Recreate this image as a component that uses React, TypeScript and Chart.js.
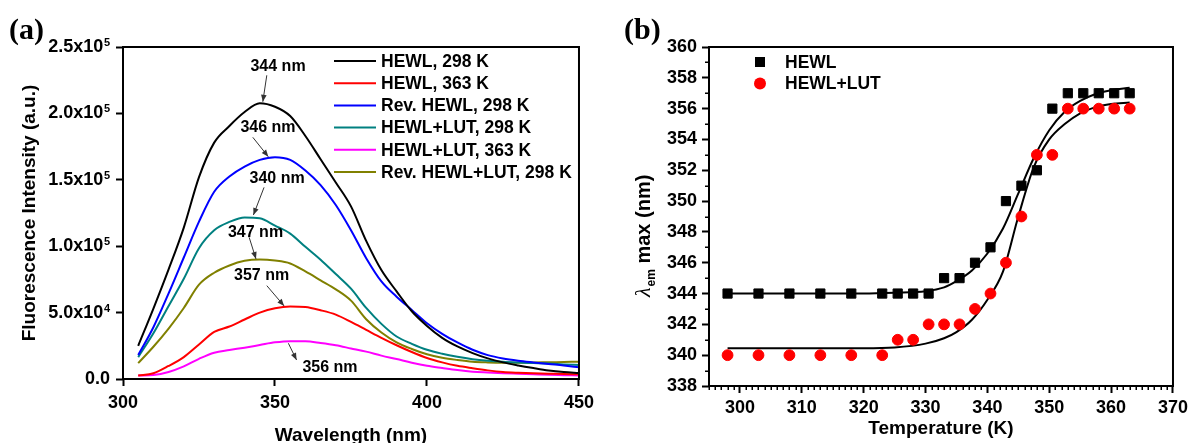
import React, { useEffect, useRef } from "react";
import { Chart, registerables } from "chart.js";

Chart.register(...registerables);

const SANS = "'Liberation Sans', Arial, Helvetica, sans-serif";
const SERIF = "'Liberation Serif', 'Times New Roman', serif";

// ================= Panel (a): emission spectra =================
const WAVELENGTH = [305, 310, 315, 320, 325, 330, 335, 340, 345, 350, 355, 360, 365, 370, 375, 380, 385, 390, 395, 400, 405, 410, 415, 420, 425, 430, 435, 440, 445, 450];

const HEWL_298K = [25000, 53000, 82500, 114000, 152000, 178000, 190500, 201000, 207600, 205000, 198000, 183000, 165500, 148000, 130000, 104000, 82000, 66000, 51000, 40000, 31000, 24500, 19500, 15500, 12500, 10200, 8200, 6400, 5200, 4500];
const HEWL_363K = [2600, 4300, 9800, 16500, 26000, 35500, 39500, 44800, 50000, 53300, 54600, 54200, 51800, 48500, 43000, 37000, 31000, 25400, 20300, 15800, 12500, 9900, 8100, 6500, 5300, 4700, 4300, 4000, 3800, 3500];
const REV_HEWL_298K = [18000, 39000, 64500, 91500, 118500, 141000, 152500, 160000, 165000, 167000, 165000, 157000, 146000, 131000, 112000, 91000, 73500, 62000, 52000, 42000, 34000, 27500, 22000, 18000, 15500, 13800, 12500, 11300, 10200, 8800];
const HEWL_LUT_298K = [16500, 34400, 55000, 75500, 98500, 112000, 118300, 121700, 121000, 115500, 109500, 99500, 89800, 79000, 68000, 53500, 41500, 32000, 26500, 22000, 19000, 16700, 14900, 13700, 12900, 12400, 12000, 11600, 11000, 10500];
const HEWL_LUT_363K = [2600, 3000, 5300, 9500, 15200, 19800, 21800, 23600, 25600, 27600, 28500, 28400, 27100, 25400, 23000, 20600, 17600, 15000, 12300, 10000, 8300, 6700, 5500, 4900, 4400, 4000, 3600, 3200, 2900, 2600];
const REV_HEWL_LUT_298K = [12000, 24300, 38000, 53500, 71000, 80000, 85500, 89000, 90000, 89200, 87000, 81000, 74300, 67500, 59000, 45000, 35000, 27600, 22600, 18600, 16000, 14300, 13000, 12500, 12300, 12300, 12400, 12600, 12800, 13000];

const SPECTRA_LABELS = ["HEWL, 298 K", "HEWL, 363 K", "Rev. HEWL, 298 K", "HEWL+LUT, 298 K", "HEWL+LUT, 363 K", "Rev. HEWL+LUT, 298 K"];
const SPECTRA_VALUES = [HEWL_298K, HEWL_363K, REV_HEWL_298K, HEWL_LUT_298K, HEWL_LUT_363K, REV_HEWL_LUT_298K];
const SPECTRA_COLORS = ["#000000", "#ff0000", "#0000ff", "#008080", "#ff00ff", "#808000"];

const X_TICKS_A = [300, 350, 400, 450];
const Y_TICKS_A = [0, 50000, 100000, 150000, 200000, 250000];
const Y_TICK_MANTISSA_A = ["0.0", "5.0x10", "1.0x10", "1.5x10", "2.0x10", "2.5x10"];
const Y_TICK_EXPONENT_A = ["", "4", "5", "5", "5", "5"];

// peak annotations (data coordinates: wavelength, intensity)
const PEAK_LABELS = ["344 nm", "346 nm", "340 nm", "347 nm", "357 nm", "356 nm"];
const PEAK_LABEL_AT = [[351, 235300], [347.7, 189400], [350.7, 150700], [343.6, 110000], [345.6, 77500], [368.1, 8500]];
const PEAK_ARROW_FROM = [[347.3, 228700], [342.7, 182000], [346.4, 144300], [341.5, 106700], [347.3, 70300], [354.4, 26900]];
const PEAK_ARROW_TO = [[346.0, 208800], [347.8, 167400], [342.9, 123500], [343.75, 90400], [353.0, 55000], [357.1, 14300]];

// ================= Panel (b): lambda max vs temperature =================
const TEMPERATURE = [298, 303, 308, 313, 318, 323, 325.5, 328, 330.5, 333, 335.5, 338, 340.5, 343, 345.5, 348, 350.5, 353, 355.5, 358, 360.5, 363];
const HEWL_LMAX = [344, 344, 344, 344, 344, 344, 344, 344, 344, 345, 345, 346, 347, 350, 351, 352, 356, 357, 357, 357, 357, 357];
const HEWL_LUT_LMAX = [340, 340, 340, 340, 340, 340, 341, 341, 342, 342, 342, 343, 344, 346, 349, 353, 353, 356, 356, 356, 356, 356];

const FIT_TEMPERATURE = [298, 305, 310, 315, 320, 325, 330, 333, 335, 337.5, 340, 342.5, 345, 347.5, 350, 352.5, 355, 357.5, 360, 363];
const FIT_HEWL = [344.0, 344.0, 344.0, 344.0, 344.0, 344.05, 344.15, 344.4, 344.8, 345.5, 346.6, 348.2, 350.5, 352.8, 354.6, 355.8, 356.5, 356.95, 357.2, 357.35];
const FIT_HEWL_LUT = [340.45, 340.45, 340.45, 340.45, 340.45, 340.5, 340.75, 341.1, 341.5, 342.3, 343.6, 345.4, 349.0, 352.2, 354.0, 355.0, 355.7, 356.1, 356.3, 356.4];

const X_TICKS_B = [300, 310, 320, 330, 340, 350, 360, 370];
const Y_TICKS_B = [338, 340, 342, 344, 346, 348, 350, 352, 354, 356, 358, 360];

// ---------------------------------------------------------------
function drawArrow(ctx: CanvasRenderingContext2D, x1: number, y1: number, x2: number, y2: number) {
  ctx.strokeStyle = "#333";
  ctx.fillStyle = "#333";
  ctx.lineWidth = 1;
  ctx.beginPath();
  ctx.moveTo(x1, y1);
  ctx.lineTo(x2, y2);
  ctx.stroke();
  const ang = Math.atan2(y2 - y1, x2 - x1);
  const len = 7;
  const w = 2.8;
  ctx.beginPath();
  ctx.moveTo(x2, y2);
  ctx.lineTo(x2 - len * Math.cos(ang) + w * Math.sin(ang), y2 - len * Math.sin(ang) - w * Math.cos(ang));
  ctx.lineTo(x2 - len * Math.cos(ang) - w * Math.sin(ang), y2 - len * Math.sin(ang) + w * Math.cos(ang));
  ctx.closePath();
  ctx.fill();
}

const panelAPlugin = {
  id: "panelA",
  afterDraw(chart: any) {
    const { ctx, chartArea: a, scales } = chart;
    const xs = scales.x;
    const ys = scales.y;
    ctx.save();
    // frame
    ctx.strokeStyle = "#000";
    ctx.lineWidth = 2;
    ctx.strokeRect(a.left, a.top, a.right - a.left, a.bottom - a.top);
    // y tick labels with superscript exponents
    const right = a.left - 7 - 6;
    Y_TICKS_A.forEach((v, i) => {
      const y = ys.getPixelForValue(v);
      const exp = Y_TICK_EXPONENT_A[i];
      ctx.fillStyle = "#000";
      let expW = 0;
      if (exp) {
        ctx.font = `bold 11px ${SANS}`;
        expW = ctx.measureText(exp).width;
        ctx.textAlign = "left";
        ctx.textBaseline = "alphabetic";
        ctx.fillText(exp, right - expW, y - 1);
      }
      ctx.font = `bold 18px ${SANS}`;
      ctx.textAlign = "right";
      ctx.textBaseline = "middle";
      ctx.fillText(Y_TICK_MANTISSA_A[i], right - expW - (exp ? 0.5 : 0), y);
    });
    // annotations
    PEAK_LABELS.forEach((t, i) => {
      drawArrow(
        ctx,
        xs.getPixelForValue(PEAK_ARROW_FROM[i][0]),
        ys.getPixelForValue(PEAK_ARROW_FROM[i][1]),
        xs.getPixelForValue(PEAK_ARROW_TO[i][0]),
        ys.getPixelForValue(PEAK_ARROW_TO[i][1])
      );
      ctx.fillStyle = "#000";
      ctx.font = `bold 16px ${SANS}`;
      ctx.textAlign = "center";
      ctx.textBaseline = "middle";
      ctx.fillText(t, xs.getPixelForValue(PEAK_LABEL_AT[i][0]), ys.getPixelForValue(PEAK_LABEL_AT[i][1]));
    });
    // legend
    ctx.font = `bold 17.5px ${SANS}`;
    ctx.textAlign = "left";
    ctx.textBaseline = "middle";
    chart.data.datasets.forEach((ds: any, i: number) => {
      const y = a.top + 14 + i * 22.2;
      ctx.strokeStyle = ds.borderColor;
      ctx.lineWidth = 2;
      ctx.beginPath();
      ctx.moveTo(a.left + 211, y);
      ctx.lineTo(a.left + 253, y);
      ctx.stroke();
      ctx.fillStyle = "#000";
      ctx.fillText(ds.label, a.left + 258, y + 1);
    });
    // panel label
    ctx.font = `bold 30px ${SERIF}`;
    ctx.textBaseline = "alphabetic";
    ctx.fillStyle = "#000";
    ctx.fillText("(a)", 9, 39);
    ctx.restore();
  },
};

const panelBPlugin = {
  id: "panelB",
  afterDraw(chart: any) {
    const { ctx, chartArea: a, scales } = chart;
    const xs = scales.x;
    const ys = scales.y;
    ctx.save();
    ctx.strokeStyle = "#000";
    ctx.lineWidth = 2;
    ctx.strokeRect(a.left, a.top, a.right - a.left, a.bottom - a.top);
    // minor ticks
    ctx.lineWidth = 1.5;
    ctx.beginPath();
    for (let t = Math.ceil(xs.min); t <= xs.max; t += 1) {
      if (t % 10 === 0) continue;
      const x = Math.round(xs.getPixelForValue(t)) + 0.25;
      ctx.moveTo(x, a.bottom);
      ctx.lineTo(x, a.bottom + 4);
    }
    for (let v = ys.min + 1; v < ys.max; v += 2) {
      const y = Math.round(ys.getPixelForValue(v)) + 0.25;
      ctx.moveTo(a.left, y);
      ctx.lineTo(a.left - 4, y);
    }
    ctx.stroke();
    // legend (scatter datasets only)
    ctx.font = `bold 17.5px ${SANS}`;
    ctx.textAlign = "left";
    ctx.textBaseline = "middle";
    const marks = chart.data.datasets.filter((d: any) => d.showLine === false);
    marks.forEach((ds: any, i: number) => {
      const cx = a.left + 51;
      const cy = a.top + 15 + i * 21.5;
      ctx.fillStyle = ds.backgroundColor;
      if (ds.pointStyle === "rect") {
        ctx.fillRect(cx - 5, cy - 5, 10, 10);
      } else {
        ctx.beginPath();
        ctx.arc(cx, cy, 6, 0, Math.PI * 2);
        ctx.fill();
      }
      ctx.fillStyle = "#000";
      ctx.fillText(ds.label, a.left + 76, cy + 1);
    });
    // y-axis title with subscript
    ctx.save();
    ctx.translate(a.left - 59, a.bottom - 89);
    ctx.rotate(-Math.PI / 2);
    ctx.fillStyle = "#000";
    ctx.textAlign = "left";
    ctx.textBaseline = "alphabetic";
    let px = 0;
    const parts = [
      { t: "λ", f: `italic 22px ${SERIF}`, dy: 0 },
      { t: "em", f: `bold 12px ${SANS}`, dy: 5 },
      { t: " max (nm)", f: `bold 20px ${SANS}`, dy: 0 },
    ];
    parts.forEach((p) => {
      ctx.font = p.f;
      ctx.fillText(p.t, px, p.dy);
      px += ctx.measureText(p.t).width + (p.t === "λ" ? 1 : 0);
    });
    ctx.restore();
    // panel label
    ctx.font = `bold 30px ${SERIF}`;
    ctx.textAlign = "left";
    ctx.textBaseline = "alphabetic";
    ctx.fillStyle = "#000";
    ctx.fillText("(b)", 24, 39);
    ctx.restore();
  },
};

const tickFont = { family: SANS, size: 18, weight: "bold" as const };
const titleFont = { family: SANS, size: 19, weight: "bold" as const };
const gridOpts = { drawOnChartArea: false, drawTicks: true, tickLength: 7, tickWidth: 2, tickColor: "#000" };

function configA(): any {
  return {
    type: "line",
    data: {
      datasets: SPECTRA_LABELS.map((label, i) => ({
        label,
        data: WAVELENGTH.map((x, j) => ({ x, y: SPECTRA_VALUES[i][j] })),
        borderColor: SPECTRA_COLORS[i],
        backgroundColor: SPECTRA_COLORS[i],
        borderWidth: 2,
        pointRadius: 0,
        cubicInterpolationMode: "monotone",
        fill: false,
      })),
    },
    options: {
      animation: false,
      responsive: false,
      maintainAspectRatio: false,
      layout: { padding: { left: 0, top: 47, right: 21, bottom: 0 } },
      plugins: { legend: { display: false }, tooltip: { enabled: false } },
      scales: {
        x: {
          type: "linear",
          min: 300,
          max: 450,
          afterBuildTicks: (s: any) => { s.ticks = X_TICKS_A.map((v) => ({ value: v })); },
          afterFit: (s: any) => { s.height = 64; },
          ticks: { font: tickFont, color: "#000", padding: 6, maxRotation: 0, autoSkip: false, callback: (v: any) => String(v) },
          grid: gridOpts,
          border: { display: false },
          title: { display: true, text: "Wavelength (nm)", color: "#000", font: { ...titleFont, lineHeight: 0.8 }, padding: { top: 0, bottom: 0 } },
        },
        y: {
          type: "linear",
          min: 0,
          max: 250000,
          afterBuildTicks: (s: any) => { s.ticks = Y_TICKS_A.map((v) => ({ value: v })); },
          afterFit: (s: any) => { s.width = 123; },
          ticks: { display: false },
          grid: gridOpts,
          border: { display: false },
          title: { display: true, text: "Fluorescence Intensity (a.u.)", color: "#000", font: titleFont, padding: { top: 18.6, bottom: 0 } },
        },
      },
    },
    plugins: [panelAPlugin],
  };
}

function configB(): any {
  return {
    type: "line",
    data: {
      datasets: [
        {
          label: "HEWL",
          data: TEMPERATURE.map((x, j) => ({ x, y: HEWL_LMAX[j] })),
          showLine: false,
          pointStyle: "rect",
          pointRadius: 6.5,
          pointBorderWidth: 1,
          borderColor: "#000",
          backgroundColor: "#000",
        },
        {
          label: "HEWL+LUT",
          data: TEMPERATURE.map((x, j) => ({ x, y: HEWL_LUT_LMAX[j] })),
          showLine: false,
          pointStyle: "circle",
          pointRadius: 5.4,
          pointBorderWidth: 1,
          borderColor: "#ff0000",
          backgroundColor: "#ff0000",
        },
        {
          label: "HEWL fit",
          data: FIT_TEMPERATURE.map((x, j) => ({ x, y: FIT_HEWL[j] })),
          borderColor: "#000",
          backgroundColor: "#000",
          borderWidth: 2,
          pointRadius: 0,
          cubicInterpolationMode: "monotone",
        },
        {
          label: "HEWL+LUT fit",
          data: FIT_TEMPERATURE.map((x, j) => ({ x, y: FIT_HEWL_LUT[j] })),
          borderColor: "#000",
          backgroundColor: "#000",
          borderWidth: 2,
          pointRadius: 0,
          cubicInterpolationMode: "monotone",
        },
      ],
    },
    options: {
      animation: false,
      responsive: false,
      maintainAspectRatio: false,
      layout: { padding: { left: 0, top: 47, right: 19, bottom: 0 } },
      plugins: { legend: { display: false }, tooltip: { enabled: false } },
      scales: {
        x: {
          type: "linear",
          min: 295,
          max: 370,
          afterBuildTicks: (s: any) => { s.ticks = X_TICKS_B.map((v) => ({ value: v })); },
          afterFit: (s: any) => { s.height = 57; },
          ticks: { font: tickFont, color: "#000", padding: 4, maxRotation: 0, autoSkip: false, callback: (v: any) => String(v) },
          grid: gridOpts,
          border: { display: false },
          title: { display: true, text: "Temperature (K)", color: "#000", font: titleFont, padding: { top: 0, bottom: 3 } },
        },
        y: {
          type: "linear",
          min: 338,
          max: 360,
          afterBuildTicks: (s: any) => { s.ticks = Y_TICKS_B.map((v) => ({ value: v })); },
          afterFit: (s: any) => { s.width = 109; },
          ticks: { font: tickFont, color: "#000", padding: 5, autoSkip: false, callback: (v: any) => String(v) },
          grid: gridOpts,
          border: { display: false },
        },
      },
    },
    plugins: [panelBPlugin],
  };
}

export default function App() {
  const refA = useRef<HTMLCanvasElement>(null);
  const refB = useRef<HTMLCanvasElement>(null);
  useEffect(() => {
    const a = new Chart(refA.current as HTMLCanvasElement, configA());
    const b = new Chart(refB.current as HTMLCanvasElement, configB());
    return () => {
      a.destroy();
      b.destroy();
    };
  }, []);
  return (
    <div style={{ position: "fixed", left: 0, top: 0, width: 1192, height: 443, background: "#fff", overflow: "hidden" }}>
      <canvas ref={refA} width={600} height={443} style={{ position: "absolute", left: 0, top: 0, width: 600, height: 443 }} />
      <canvas ref={refB} width={592} height={443} style={{ position: "absolute", left: 600, top: 0, width: 592, height: 443 }} />
    </div>
  );
}
